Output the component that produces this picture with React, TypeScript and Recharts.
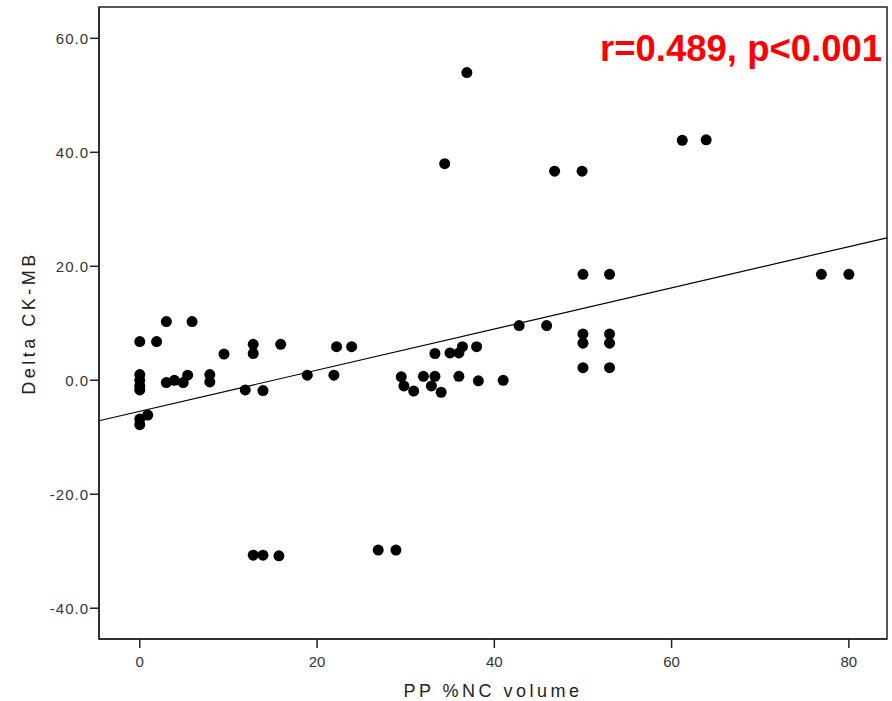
import {
  ReferenceArea,
  ReferenceLine,
  Scatter,
  ScatterChart,
  XAxis,
  YAxis,
} from "recharts";

const ncVolume = [
  0, 1.9, 3.0, 5.9, 0, 0, 0, 0, 0, 0, 0.9, 3.0, 3.9, 4.9, 5.4, 7.9, 7.9, 9.5,
  12.8, 12.8, 15.9, 11.9, 13.9, 22.2, 23.9, 18.9, 21.9, 29.5, 29.8, 30.9, 32.0,
  33.3, 32.9, 34.0, 33.3, 35.0, 36.0, 36.4, 38.0, 36.0, 38.2, 41.0, 42.8, 45.9,
  50.0, 53.0, 50.0, 50.0, 53.0, 53.0, 50.0, 53.0, 76.9, 80.0, 36.9, 34.4, 46.8,
  49.9, 61.2, 63.9, 12.8, 13.9, 15.7, 26.9, 28.9,
];

const deltaCkmb = [
  6.8, 6.8, 10.3, 10.3, 1.0, 0.0, -1.0, -1.7, -6.8, -7.8, -6.1, -0.4, 0.0, -0.4,
  0.9, 1.0, -0.3, 4.6, 6.3, 4.7, 6.3, -1.7, -1.8, 5.9, 5.9, 0.9, 0.9, 0.6, -1.0,
  -1.9, 0.7, 0.7, -1.0, -2.1, 4.7, 4.8, 4.8, 5.9, 5.9, 0.7, -0.1, 0.0, 9.6, 9.6,
  18.6, 18.6, 8.1, 6.5, 8.1, 6.5, 2.2, 2.2, 18.6, 18.6, 54.0, 38.0, 36.7, 36.7,
  42.1, 42.2, -30.7, -30.7, -30.8, -29.8, -29.8,
];

// fit line end points, read at the frame edges
const fitLine = [
  { x: -4.6, y: -7.1 },
  { x: 84.3, y: 25.0 },
];

const xTicks = [0, 20, 40, 60, 80];
const yTicks = [-40, -20, 0, 20, 40, 60];
const xDomain = [-4.6, 84.3];
const yDomain = [-45.4, 65.5];

const points = ncVolume.map((x, i) => ({ x, y: deltaCkmb[i] }));

const axisColor = "#222";
const font = "'Liberation Sans', Arial, sans-serif";

const Dot = (props: any) => (
  <circle cx={props.cx} cy={props.cy} r={5.5} fill="#000" />
);

export default function App() {
  return (
    <div style={{ position: "absolute", left: 0, top: 0, width: 892, height: 701, background: "#fff" }}>
      <ScatterChart
        width={892}
        height={701}
        margin={{ top: 7, right: 5, bottom: 0, left: 0 }}
      >
        <XAxis
          type="number"
          dataKey="x"
          domain={xDomain}
          ticks={xTicks}
          allowDataOverflow
          height={62}
          stroke={axisColor}
          strokeWidth={1.5}
          tickSize={9}
          tickMargin={8}
          tick={{ fill: "#333", fontSize: 15, fontFamily: font }}
          label={{
            value: "PP %NC volume",
            position: "insideBottom",
            offset: 4,
            style: { fill: "#222", fontSize: 18, fontFamily: font, letterSpacing: 3.5 },
          }}
        />
        <YAxis
          type="number"
          dataKey="y"
          domain={yDomain}
          ticks={yTicks}
          allowDataOverflow
          width={99}
          stroke={axisColor}
          strokeWidth={1.5}
          tickSize={9}
          tickMargin={1}
          tickFormatter={(v: number) => v.toFixed(1)}
          tick={{ fill: "#333", fontSize: 15, fontFamily: font, letterSpacing: 1 }}
          label={{
            value: "Delta CK-MB",
            angle: -90,
            position: "insideLeft",
            offset: 29,
            style: {
              fill: "#222",
              fontSize: 18,
              fontFamily: font,
              letterSpacing: 3.5,
              textAnchor: "middle",
            },
          }}
        />
        <ReferenceArea
          x1={xDomain[0]}
          x2={xDomain[1]}
          y1={yDomain[0]}
          y2={yDomain[1]}
          fill="none"
          stroke={axisColor}
          strokeWidth={1.5}
          fillOpacity={0}
          ifOverflow="visible"
        />
        <ReferenceLine
          segment={fitLine}
          stroke="#000"
          strokeWidth={1.2}
          ifOverflow="visible"
        />
        <Scatter data={points} shape={Dot} isAnimationActive={false} />
      </ScatterChart>
      <div
        style={{
          position: "absolute",
          left: 600,
          top: 31,
          fontFamily: font,
          fontWeight: "bold",
          fontSize: 36.5,
          lineHeight: "36px",
          color: "#ff0000",
          whiteSpace: "nowrap",
        }}
      >
        r=0.489, p&lt;0.001
      </div>
    </div>
  );
}
